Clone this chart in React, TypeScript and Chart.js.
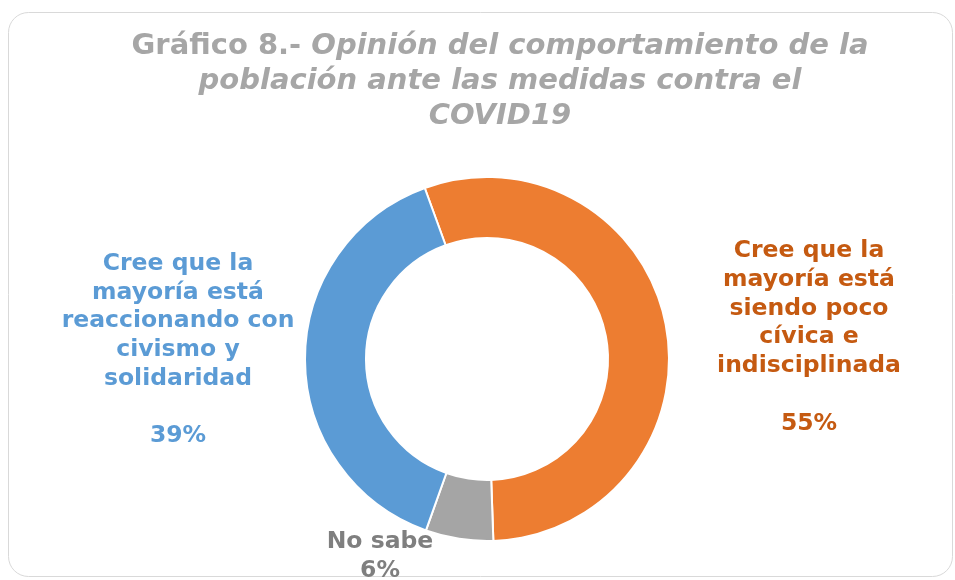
import React, { useEffect, useRef } from "react";
import { Chart, registerables } from "chart.js";

Chart.register(...registerables);

const categories = [
  "Cree que la mayoría está siendo poco cívica e indisciplinada",
  "No sabe",
  "Cree que la mayoría está reaccionando con civismo y solidaridad",
];
const values = [55, 6, 39];
const sliceColors = ["#ED7D31", "#A5A5A5", "#5B9BD5"];
const labelColors = ["#C55A11", "#7F7F7F", "#5B9BD5"];
const labelLines = [
  ["Cree que la", "mayoría está", "siendo poco", "cívica e", "indisciplinada", ""],
  ["No sabe"],
  ["Cree que la", "mayoría está", "reaccionando con", "civismo y", "solidaridad", ""],
];
const titleLead = "Gráfico 8.- ";
const titleLines = [
  "Opinión del comportamiento de la",
  "población ante las medidas contra el",
  "COVID19",
];

const FONT = "'DejaVu Sans', Verdana, sans-serif";

const decorPlugin = {
  id: "decor",
  beforeDraw(chart: any) {
    const ctx = chart.ctx;
    ctx.save();
    ctx.fillStyle = "#FFFFFF";
    ctx.fillRect(0, 0, chart.width, chart.height);
    ctx.beginPath();
    ctx.roundRect(8.5, 12.5, 944, 564, 20);
    ctx.strokeStyle = "#D9D9D9";
    ctx.lineWidth = 1;
    ctx.stroke();
    ctx.restore();
  },
  afterDraw(chart: any) {
    const ctx = chart.ctx;
    ctx.save();
    // title
    const tSize = 29;
    ctx.fillStyle = "#A6A6A6";
    ctx.textBaseline = "alphabetic";
    ctx.textAlign = "left";
    const cx = 500;
    const fontB = `bold ${tSize}px ${FONT}`;
    const fontBI = `italic bold ${tSize}px ${FONT}`;
    ctx.font = fontB;
    const w1 = ctx.measureText(titleLead).width;
    ctx.font = fontBI;
    const w2 = ctx.measureText(titleLines[0]).width;
    const x0 = cx - (w1 + w2) / 2;
    ctx.font = fontB;
    ctx.fillText(titleLead, x0, 53.5);
    ctx.font = fontBI;
    ctx.fillText(titleLines[0], x0 + w1, 53.5);
    ctx.textAlign = "center";
    ctx.fillText(titleLines[1], cx, 88.5);
    ctx.fillText(titleLines[2], cx, 123.5);

    // data labels
    const lsize = 23.5;
    ctx.font = `bold ${lsize}px ${FONT}`;
    ctx.textAlign = "center";
    const anchors = [
      { x: 809, y: 257, lh: 28.75 },
      { x: 380, y: 548, lh: 28.5 },
      { x: 178, y: 270, lh: 28.7 },
    ];
    values.forEach((v, i) => {
      const lines = [...labelLines[i], `${v}%`];
      ctx.fillStyle = labelColors[i];
      lines.forEach((ln, j) => {
        if (ln) ctx.fillText(ln, anchors[i].x, anchors[i].y + j * anchors[i].lh);
      });
    });
    ctx.restore();
  },
};

export default function App() {
  const ref = useRef<HTMLCanvasElement>(null);
  useEffect(() => {
    if (!ref.current) return;
    const chart = new Chart(ref.current, {
      type: "doughnut",
      data: {
        labels: categories,
        datasets: [
          {
            data: values,
            backgroundColor: sliceColors,
            borderColor: "#FFFFFF",
            borderWidth: 2,
          },
        ],
      },
      options: {
        responsive: false,
        animation: false,
        devicePixelRatio: 1,
        rotation: -20,
        cutout: "66.5%",
        layout: { padding: { left: 304, right: 285, top: 176, bottom: 38 } },
        plugins: {
          legend: { display: false },
          tooltip: { enabled: false },
          title: { display: false },
        },
      },
      plugins: [decorPlugin],
    });
    return () => chart.destroy();
  }, []);
  return (
    <div style={{ position: "absolute", left: 0, top: 0, width: 955, height: 580 }}>
      <canvas ref={ref} width={955} height={580} style={{ width: 955, height: 580 }} />
    </div>
  );
}
